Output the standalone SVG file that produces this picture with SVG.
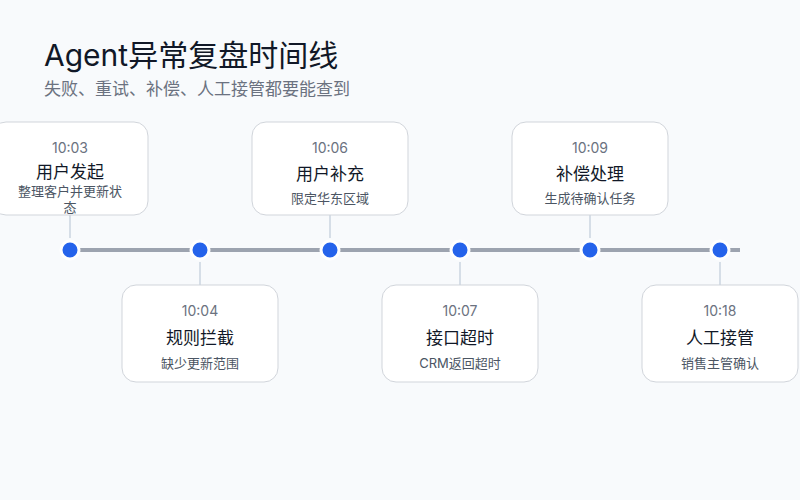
<svg xmlns="http://www.w3.org/2000/svg" width="800" height="500" viewBox="0 0 800 500">
<style>
text{font-family:Inter,"Noto Sans CJK SC",sans-serif;text-anchor:middle}
.card{fill:#fff;stroke:#d1d5db;stroke-width:1}
.t{font-size:14px;fill:#6b7280}
.h{font-size:17px;fill:#111827}
.d{font-size:13px;fill:#4b5563}
.dot{fill:#2563eb;stroke:#fff;stroke-width:3}
.stem{stroke:#cbd5e1;stroke-width:1.5}
</style>
<rect width="800" height="500" fill="#f8fafc"/>
<text x="44" y="66" style="text-anchor:start;font-size:30px;fill:#111827">Agent异常复盘时间线</text>
<text x="44" y="95" style="text-anchor:start;font-size:17px;fill:#6b7280">失败、重试、补偿、人工接管都要能查到</text>
<g id="connectors">
<line x1="70" y1="250" x2="740" y2="250" stroke="#9ca3af" stroke-width="4"/>
<line class="stem" x1="70" y1="215" x2="70" y2="238"/>
<line class="stem" x1="200" y1="262" x2="200" y2="285"/>
<line class="stem" x1="330" y1="215" x2="330" y2="238"/>
<line class="stem" x1="460" y1="262" x2="460" y2="285"/>
<line class="stem" x1="590" y1="215" x2="590" y2="238"/>
<line class="stem" x1="720" y1="262" x2="720" y2="285"/>
</g>
<g id="n1"><rect class="card" x="-8" y="122" width="156" height="93" rx="14"/><text class="t" x="70" y="153">10:03</text><text class="h" x="70" y="178">用户发起</text><text class="d" x="70" y="196">整理客户并更新状</text><text class="d" x="70" y="212">态</text><circle class="dot" cx="70" cy="250" r="9"/></g>
<g id="n2"><rect class="card" x="122" y="285" width="156" height="97" rx="14"/><text class="t" x="200" y="316">10:04</text><text class="h" x="200" y="344">规则拦截</text><text class="d" x="200" y="368">缺少更新范围</text><circle class="dot" cx="200" cy="250" r="9"/></g>
<g id="n3"><rect class="card" x="252" y="122" width="156" height="93" rx="14"/><text class="t" x="330" y="153">10:06</text><text class="h" x="330" y="180">用户补充</text><text class="d" x="330" y="203">限定华东区域</text><circle class="dot" cx="330" cy="250" r="9"/></g>
<g id="n4"><rect class="card" x="382" y="285" width="156" height="97" rx="14"/><text class="t" x="460" y="316">10:07</text><text class="h" x="460" y="344">接口超时</text><text class="d" x="460" y="368">CRM返回超时</text><circle class="dot" cx="460" cy="250" r="9"/></g>
<g id="n5"><rect class="card" x="512" y="122" width="156" height="93" rx="14"/><text class="t" x="590" y="153">10:09</text><text class="h" x="590" y="180">补偿处理</text><text class="d" x="590" y="203">生成待确认任务</text><circle class="dot" cx="590" cy="250" r="9"/></g>
<g id="n6"><rect class="card" x="642" y="285" width="156" height="97" rx="14"/><text class="t" x="720" y="316">10:18</text><text class="h" x="720" y="344">人工接管</text><text class="d" x="720" y="368">销售主管确认</text><circle class="dot" cx="720" cy="250" r="9"/></g>
</svg>
